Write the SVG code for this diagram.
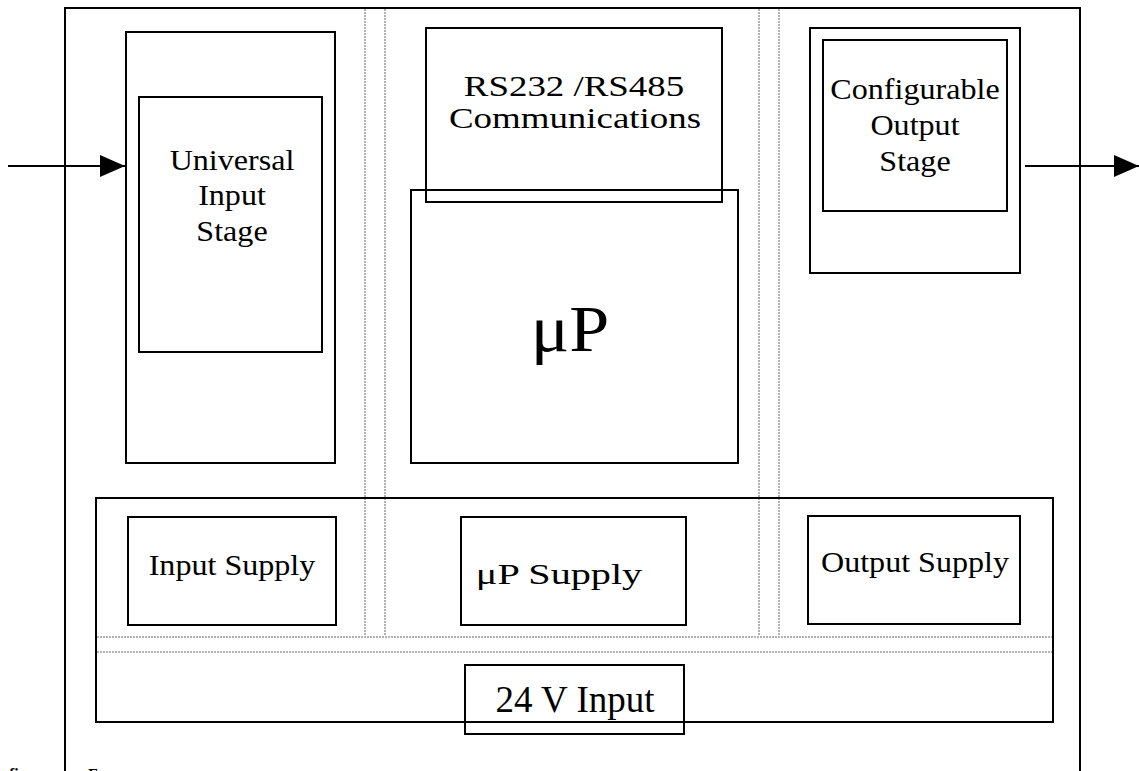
<svg xmlns="http://www.w3.org/2000/svg" width="1139" height="771" viewBox="0 0 1139 771">
  <defs>
    <style>
      .box { fill: none; stroke: #000; stroke-width: 2; }
      .dot { fill: none; stroke: #666; stroke-width: 1; stroke-dasharray: 2 1; }
      .wire { fill: none; stroke: #000; stroke-width: 2; }
      .lbl { font-family: "Liberation Serif", "Times New Roman", serif; font-size: 30px; fill: #000; text-anchor: middle; }
      .cut { font-family: "Liberation Serif", "Times New Roman", serif; font-size: 16px; font-weight: bold; fill: #000; }
    </style>
    <marker id="arrow" markerWidth="26" markerHeight="22" refX="25" refY="11" orient="auto" markerUnits="userSpaceOnUse">
      <path d="M0,0 L25,11 L0,22 Z" fill="#000"/>
    </marker>
  </defs>
  <rect width="1139" height="771" fill="#fff"/>

  <!-- enclosure -->
  <g id="enclosure">
    <polyline class="box" points="65,780 65,8 1080,8 1080,780"/>
  </g>

  <!-- section dividers -->
  <g id="dividers">
    <line class="dot" x1="365" y1="9" x2="365" y2="636"/>
    <line class="dot" x1="385" y1="9" x2="385" y2="636"/>
    <line class="dot" x1="759" y1="9" x2="759" y2="636"/>
    <line class="dot" x1="779" y1="9" x2="779" y2="636"/>
    <line class="dot" x1="97" y1="637" x2="1052" y2="637"/>
    <line class="dot" x1="97" y1="652" x2="1052" y2="652"/>
  </g>

  <g id="input-frame">
    <rect class="box" x="126" y="32" width="209" height="431"/>
  </g>
  <g id="universal-input-stage">
    <rect class="box" x="139" y="97" width="183" height="255"/>
    <text class="lbl" transform="translate(232 170) scale(1.07 1)">Universal</text>
    <text class="lbl" transform="translate(232 205) scale(1.07 1)">Input</text>
    <text class="lbl" transform="translate(232 241) scale(1.07 1)">Stage</text>
  </g>

  <g id="communications">
    <rect class="box" x="426" y="28" width="296" height="174"/>
    <text class="lbl" transform="translate(574 96) scale(1.23 1)">RS232 /RS485</text>
    <text class="lbl" transform="translate(575 128) scale(1.23 1)">Communications</text>
  </g>

  <g id="microprocessor">
    <rect class="box" x="411" y="190" width="327" height="273"/>
    <text class="lbl" transform="translate(570 351) scale(1.09 1)" style="font-size:66px">μP</text>
  </g>

  <g id="output-frame">
    <rect class="box" x="810" y="28" width="210" height="245"/>
  </g>
  <g id="configurable-output-stage">
    <rect class="box" x="823" y="40" width="184" height="171"/>
    <text class="lbl" transform="translate(915 99) scale(1.07 1)">Configurable</text>
    <text class="lbl" transform="translate(915 135) scale(1.07 1)">Output</text>
    <text class="lbl" transform="translate(915 171) scale(1.07 1)">Stage</text>
  </g>

  <g id="power-section">
    <rect class="box" x="96" y="498" width="957" height="224"/>
  </g>
  <g id="input-supply">
    <rect class="box" x="128" y="517" width="208" height="108"/>
    <text class="lbl" transform="translate(232 575) scale(1.07 1)">Input Supply</text>
  </g>
  <g id="up-supply">
    <rect class="box" x="461" y="517" width="225" height="108"/>
    <text class="lbl" transform="translate(559 584) scale(1.34 1)">μP Supply</text>
  </g>
  <g id="output-supply">
    <rect class="box" x="808" y="516" width="212" height="108"/>
    <text class="lbl" transform="translate(915 572) scale(1.07 1)">Output Supply</text>
  </g>
  <g id="supply-input">
    <rect class="box" x="465" y="665" width="219" height="69"/>
    <text class="lbl" transform="translate(575 712) scale(1.0 1)" style="font-size:37px">24 V Input</text>
  </g>

  <g id="connectors">
    <line class="wire" x1="8" y1="166" x2="125" y2="166" marker-end="url(#arrow)"/>
    <line class="wire" x1="1025" y1="166" x2="1139" y2="166" marker-end="url(#arrow)"/>
  </g>

  <!-- caption line running off the bottom edge -->
  <text class="cut" x="9" y="780">fi</text>
  <text class="cut" x="88" y="780">F</text>
</svg>
